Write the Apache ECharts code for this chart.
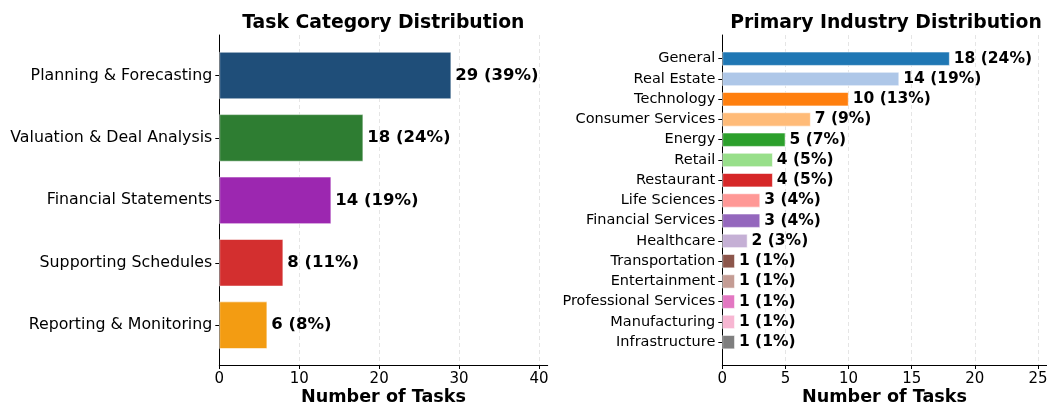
<!DOCTYPE html>
<html>
<head>
<meta charset="utf-8">
<title>Task and Industry Distribution</title>
<script src="https://cdn.jsdelivr.net/npm/echarts@6.0.0/dist/echarts.min.js"></script>
<style>
  html, body { margin: 0; padding: 0; background: #fff; }
  #chart { width: 1047px; height: 408px; }
</style>
</head>
<body>
<div id="chart"></div>
<script>
// left panel: task categories
const taskCategories = ['Planning & Forecasting', 'Valuation & Deal Analysis', 'Financial Statements', 'Supporting Schedules', 'Reporting & Monitoring']
const taskCounts = [29, 18, 14, 8, 6]
const taskColors = ['#1f4e79', '#2e7d32', '#9c27b0', '#d32f2f', '#f39c12']

// right panel: primary industry
const industries = ['General', 'Real Estate', 'Technology', 'Consumer Services', 'Energy', 'Retail', 'Restaurant', 'Life Sciences',
  'Financial Services', 'Healthcare', 'Transportation', 'Entertainment', 'Professional Services', 'Manufacturing', 'Infrastructure']
const industryCounts = [18, 14, 10, 7, 5, 4, 4, 3, 3, 2, 1, 1, 1, 1, 1]
const industryColors = ['#1f77b4', '#aec7e8', '#ff7f0e', '#ffbb78', '#2ca02c', '#98df8a', '#d62728', '#ff9896',
  '#9467bd', '#c5b0d5', '#8c564b', '#c49c94', '#e377c2', '#f7b6d2', '#7f7f7f']

const FONT = 'DejaVu Sans'
const GRID_COLOR = 'rgba(0, 0, 0, 0.13)'

function sum(arr) {
  return arr.reduce((a, b) => a + b, 0)
}

// one panel = frame grid (spines + axis name), tick grid (ticks, labels, dashed grid), bar grid (bars + categories)
function buildPanel(p) {
  const base = p.index * 3
  const total = sum(p.counts)
  const grid = [
    { left: p.left, right: p.right, top: 35, bottom: 43 },
    { left: p.left, right: p.tickRight, top: 35, bottom: 43 },
    { left: p.left, right: p.right, top: p.barTop, bottom: p.barBottom }
  ]
  grid.forEach(g => { g.containLabel = false; g.outerBoundsMode = 'none' })
  const xAxis = [{
    gridIndex: base,
    type: 'value',
    min: 0,
    max: p.max,
    axisLine: { onZero: false, lineStyle: { color: '#000', width: 1 } },
    axisTick: { show: false },
    axisLabel: { show: false },
    splitLine: { show: false },
    name: 'Number of Tasks',
    nameLocation: 'middle',
    nameGap: 23,
    nameTextStyle: { fontFamily: FONT, fontWeight: 'bold', fontSize: 17.6, color: '#000' }
  }, {
    gridIndex: base + 1,
    type: 'value',
    min: 0,
    max: p.tickMax,
    interval: p.step,
    axisLine: { show: false },
    axisTick: { show: true, length: 4, lineStyle: { color: '#000' } },
    axisLabel: { margin: 7, fontFamily: FONT, fontSize: 15, color: '#000' },
    splitLine: { show: true, lineStyle: { color: GRID_COLOR, type: [4, 3], width: 0.8 } }
  }, {
    gridIndex: base + 2,
    type: 'value',
    min: 0,
    max: p.max,
    show: false
  }]
  const yAxis = [{
    gridIndex: base,
    type: 'value',
    min: 0,
    max: 1,
    axisLine: { show: true, onZero: false, lineStyle: { color: '#000', width: 1 } },
    axisTick: { show: false },
    axisLabel: { show: false },
    splitLine: { show: false }
  }, {
    gridIndex: base + 1,
    type: 'value',
    show: false
  }, {
    gridIndex: base + 2,
    type: 'category',
    inverse: true,
    data: p.categories,
    axisLine: { show: false },
    axisTick: { show: true, alignWithLabel: true, length: 4, lineStyle: { color: '#000' } },
    axisLabel: { margin: 7, fontFamily: FONT, fontSize: p.catFont, color: '#000' }
  }]
  const series = [{
    type: 'bar',
    xAxisIndex: base + 2,
    yAxisIndex: base + 2,
    barWidth: p.barWidth,
    data: p.counts.map((v, i) => ({
      value: v,
      itemStyle: { color: p.colors[i], borderColor: 'rgba(255,255,255,0.7)', borderWidth: 0.8 }
    })),
    label: {
      show: true,
      position: 'right',
      distance: 4,
      fontFamily: FONT,
      fontWeight: 'bold',
      fontSize: p.labelFont,
      color: '#000',
      formatter: d => d.value + ' (' + Math.round(d.value / total * 100) + '%)'
    }
  }]
  const title = {
    text: p.title,
    left: p.titleCenter,
    top: 14,
    padding: 0,
    textAlign: 'center',
    textStyle: { fontFamily: FONT, fontWeight: 'bold', fontSize: 18.8, color: '#000' }
  }
  return { grid, xAxis, yAxis, series, title }
}

const left = buildPanel({
  index: 0, title: 'Task Category Distribution', titleCenter: 383.3,
  categories: taskCategories, counts: taskCounts, colors: taskColors,
  left: 219.3, right: 499.3, tickRight: 508, max: 41.05, tickMax: 40, step: 10,
  barTop: 44.3, barBottom: 51.6, barWidth: '76%', catFont: 15.8, labelFont: 16.5
})
const right = buildPanel({
  index: 1, title: 'Primary Industry Distribution', titleCenter: 886,
  categories: industries, counts: industryCounts, colors: industryColors,
  left: 722.3, right: 0.3, tickRight: 9, max: 25.67, tickMax: 25, step: 5,
  barTop: 48.6, barBottom: 55.7, barWidth: '70%', catFont: 14.5, labelFont: 15.5
})

const chart = echarts.init(document.getElementById('chart'), null, { renderer: 'canvas' })
chart.setOption({
  backgroundColor: '#fff',
  animation: false,
  title: [left.title, right.title],
  grid: left.grid.concat(right.grid),
  xAxis: left.xAxis.concat(right.xAxis),
  yAxis: left.yAxis.concat(right.yAxis),
  series: left.series.concat(right.series)
})
</script>
</body>
</html>
